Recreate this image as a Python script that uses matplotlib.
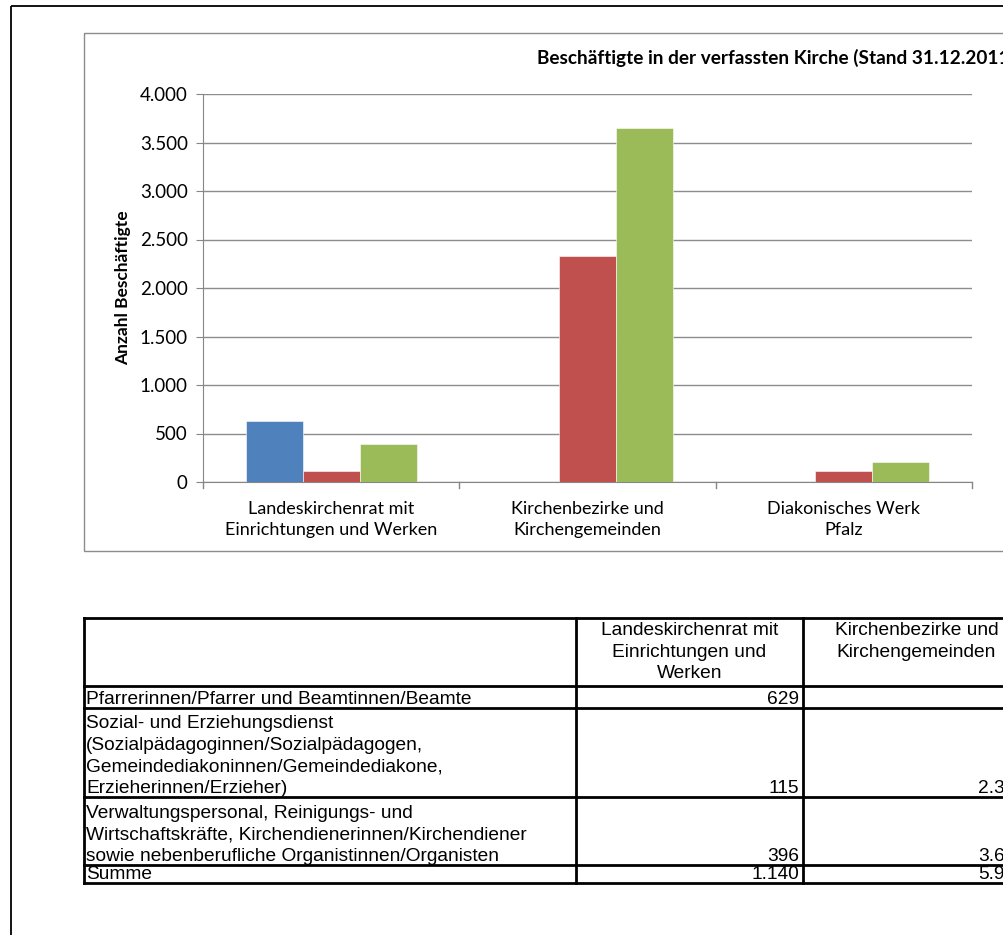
import matplotlib.pyplot as plt
from matplotlib.patches import Rectangle
import numpy as np

# chart data
categories = ["Landeskirchenrat mit\nEinrichtungen und Werken",
              "Kirchenbezirke und\nKirchengemeinden",
              "Diakonisches Werk\nPfalz"]
pfarrer = [629, 0, 0]
sozial = [115, 2329, 115]
verwaltung = [396, 3645, 205]
y_ticks = [0, 500, 1000, 1500, 2000, 2500, 3000, 3500, 4000]
y_tick_labels = ["0", "500", "1.000", "1.500", "2.000", "2.500", "3.000", "3.500", "4.000"]

# table data
table_header = ["", "Landeskirchenrat mit\nEinrichtungen und\nWerken", "Kirchenbezirke und\nKirchengemeinden"]
row_labels = ["Pfarrerinnen/Pfarrer und Beamtinnen/Beamte",
              "Sozial- und Erziehungsdienst\n(Sozialpädagoginnen/Sozialpädagogen,\nGemeindediakoninnen/Gemeindediakone,\nErzieherinnen/Erzieher)",
              "Verwaltungspersonal, Reinigungs- und\nWirtschaftskräfte, Kirchendienerinnen/Kirchendiener\nsowie nebenberufliche Organistinnen/Organisten",
              "Summe"]
col_landes = ["629", "115", "396", "1.140"]
col_bezirke = ["", "2.329", "3.645", "5.974"]

W, H = 1004, 935
fig = plt.figure(figsize=(W / 100, H / 100), dpi=100)

# overlay axes in pixel coordinates for frames and table
bg = fig.add_axes([0, 0, 1, 1])
bg.set_xlim(0, W)
bg.set_ylim(H, 0)
bg.axis("off")

# outer black frame and gray chart frame (both run off the page)
bg.add_patch(Rectangle((11, 6), 1200, 1200, fill=False, ec="black", lw=1.3))
bg.add_patch(Rectangle((84, 33), 1200, 551 - 33, fill=False, ec="#8c8c8c", lw=1.0))

# bar chart
ax = fig.add_axes([203 / W, (H - 482) / H, (972 - 203) / W, (482 - 94) / H])
x = np.arange(len(categories))
w = 0.222
cols = ["#4F81BD", "#C0504D", "#9BBB59"]
for off, vals, c in zip([-w, 0, w], [pfarrer, sozial, verwaltung], cols):
    ax.bar(x + off, vals, w, color=c, edgecolor="white", linewidth=0.4, zorder=3)

ax.set_xlim(-0.5, 2.5)
ax.set_ylim(0, 4000)
ax.set_yticks(y_ticks)
ax.set_yticklabels(y_tick_labels, fontsize=13.5, family="Lato")
ax.set_xticks(x)
ax.set_xticklabels(categories, fontsize=13, family="Lato", linespacing=1.35)
ax.tick_params(axis="x", length=0, pad=14)
ax.tick_params(axis="y", length=5, color="#868686", pad=6)
# boundary ticks on the category axis
for b in [-0.5, 0.5, 1.5, 2.5]:
    ax.plot([b, b], [0, -60], color="#868686", lw=1, clip_on=False, zorder=4)
ax.grid(axis="y", color="#8c8c8c", lw=1, zorder=0)
for s in ["top", "right"]:
    ax.spines[s].set_visible(False)
ax.spines["left"].set_color("#868686")
ax.spines["bottom"].set_color("#868686")

fig.text(537 / W, 1 - 58 / H, "Beschäftigte in der verfassten Kirche (Stand 31.12.2011)",
         fontsize=13.7, fontweight="bold", family="Lato", ha="left", va="center")
fig.text(123 / W, 1 - 288 / H, "Anzahl Beschäftigte", fontsize=12.5, fontweight="bold",
         family="Lato", rotation=90, ha="center", va="center")

# table
col_x = [84, 576, 803, 1030]
row_y = [618, 686, 708, 797, 865, 883]
tfont = dict(family="Liberation Sans", fontsize=13.8)
lw = 2.0
for yy in row_y:
    bg.plot([col_x[0], col_x[-1]], [yy, yy], color="black", lw=lw, solid_capstyle="projecting")
for xx in col_x:
    bg.plot([xx, xx], [row_y[0], row_y[-1]], color="black", lw=lw, solid_capstyle="projecting")

for j, txt in enumerate(table_header):
    if txt:
        cx = (col_x[j] + col_x[j + 1]) / 2
        bg.text(cx, row_y[0] + 4, txt, ha="center", va="top", linespacing=1.36, **tfont)

for i, lab in enumerate(row_labels):
    base = row_y[i + 2] - 4
    bg.text(col_x[0] + 2, base, lab, ha="left", va="baseline", linespacing=1.36, **tfont)
    bg.text(col_x[2] - 4, base, col_landes[i], ha="right", va="baseline", **tfont)
    if col_bezirke[i]:
        bg.text(col_x[3] - 4, base, col_bezirke[i], ha="right", va="baseline", **tfont)

fig.savefig("out.png", dpi=100)
